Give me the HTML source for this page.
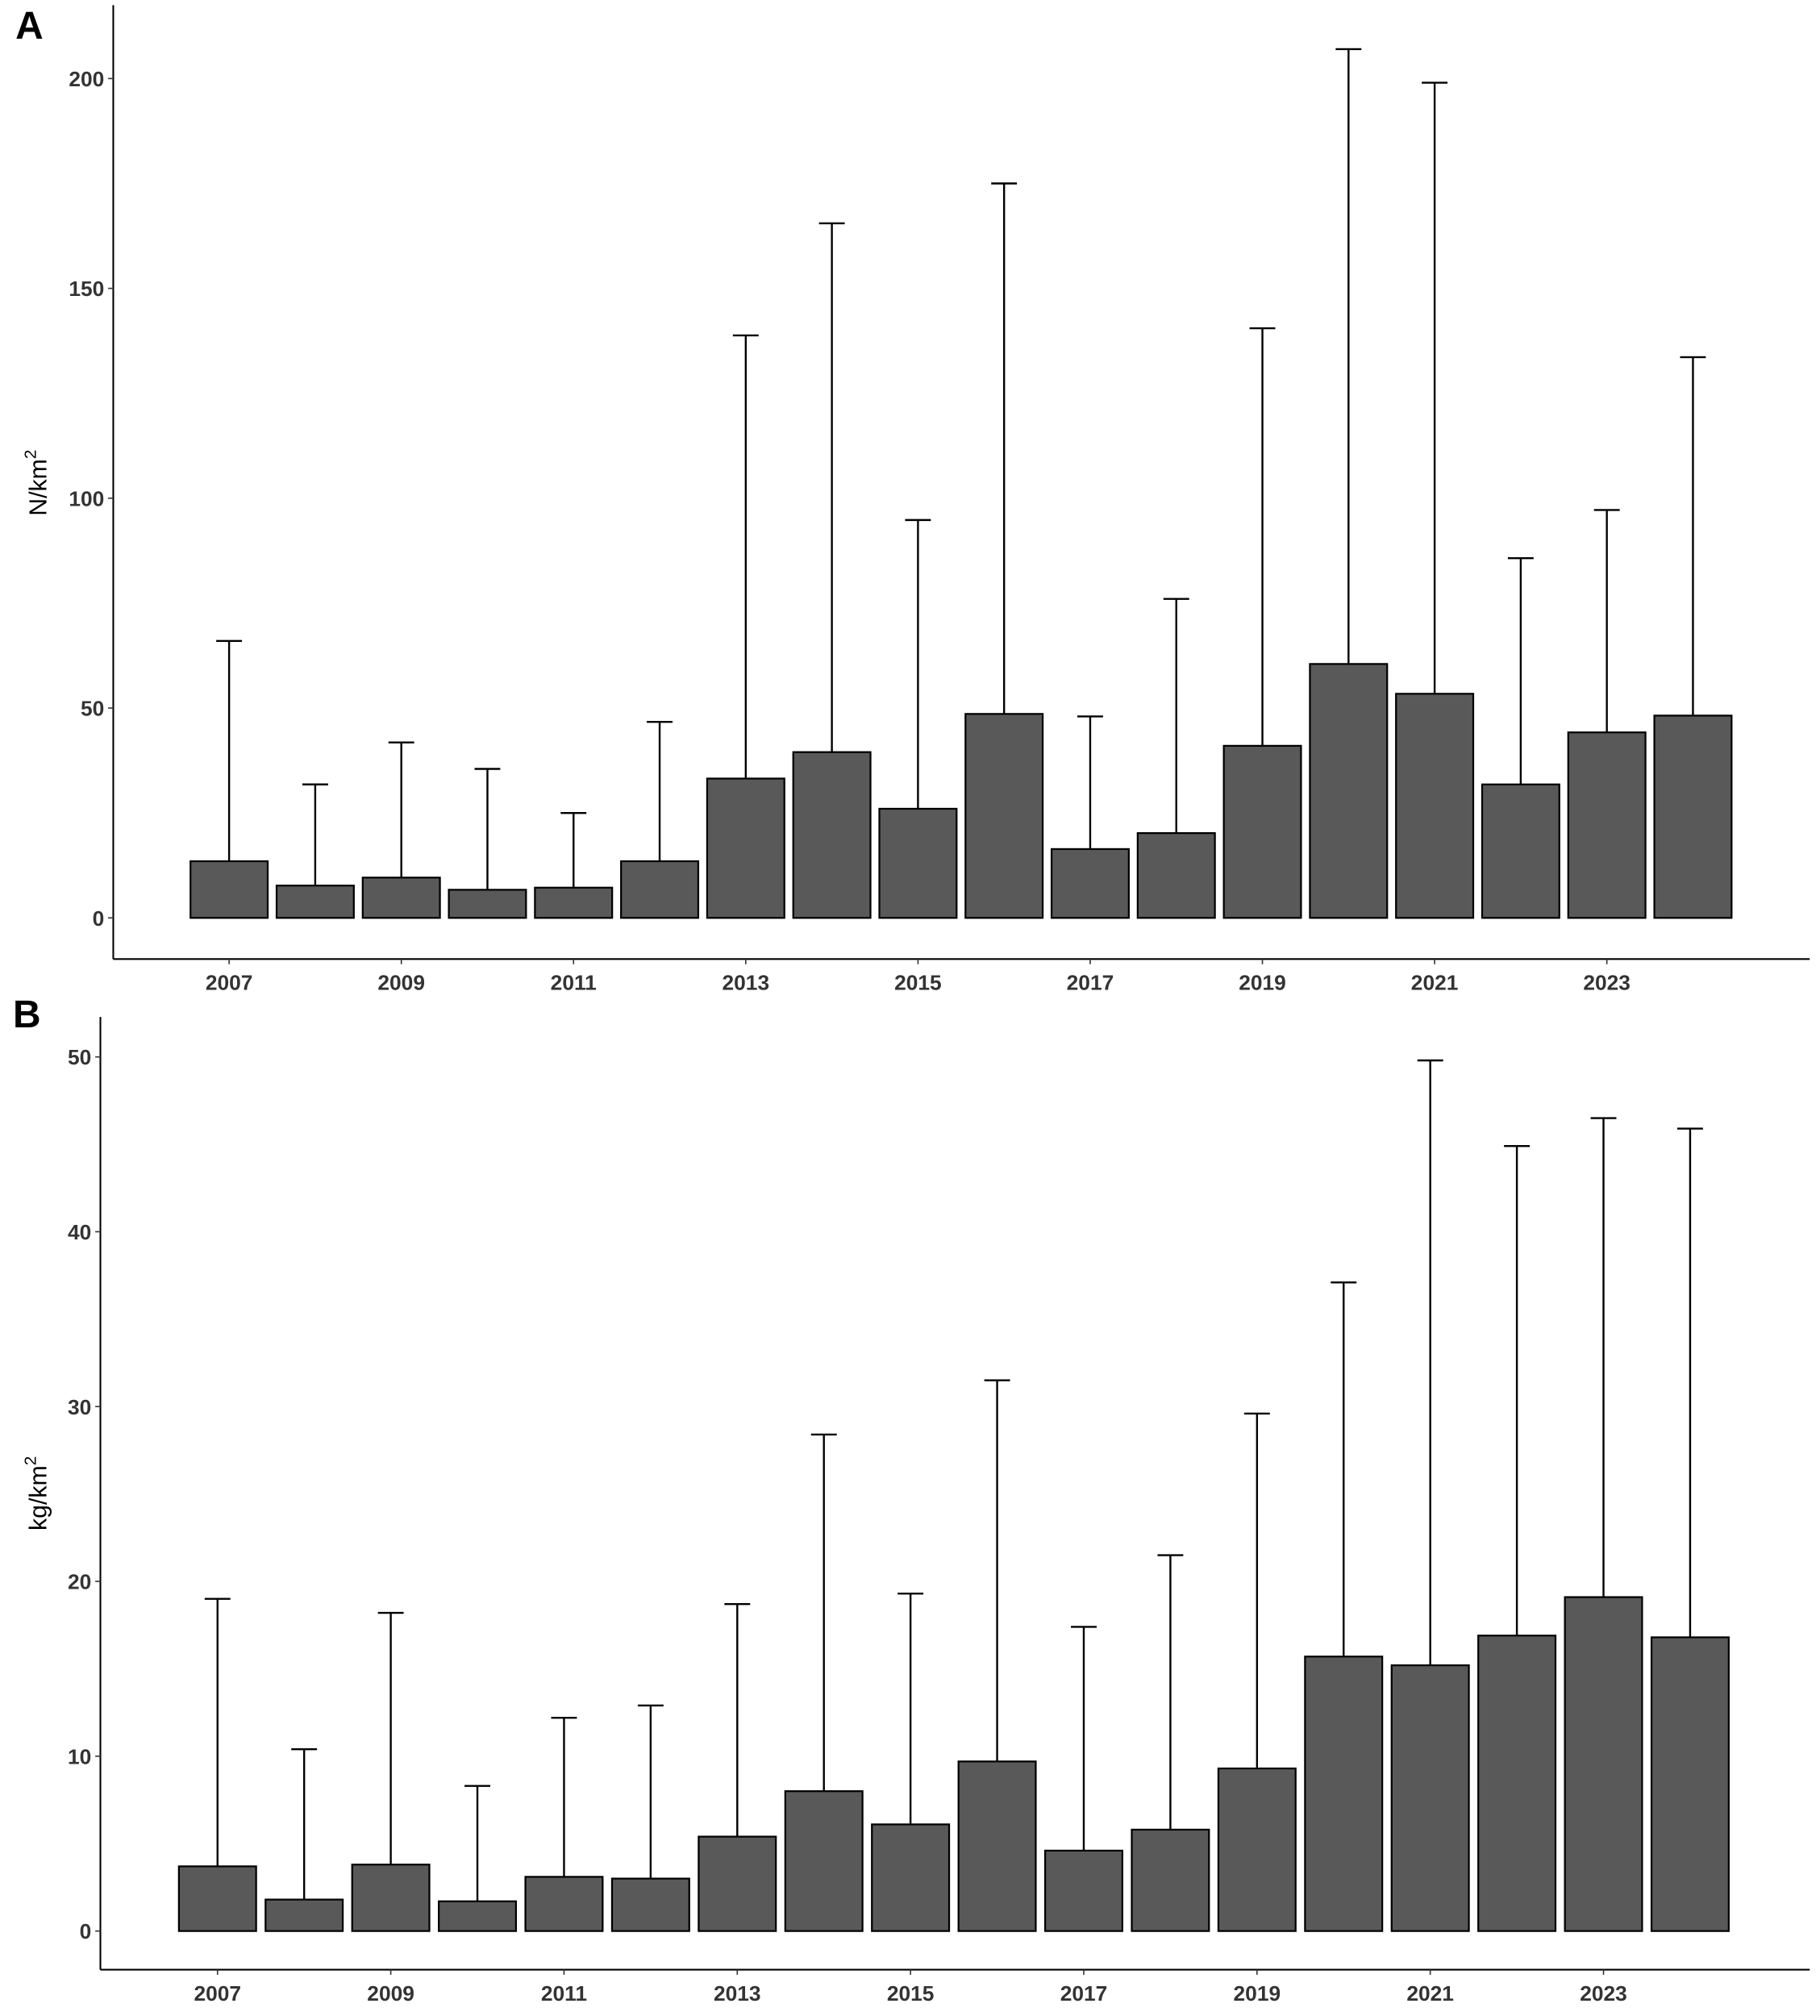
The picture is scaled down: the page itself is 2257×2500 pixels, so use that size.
<!DOCTYPE html>
<html><head><meta charset="utf-8"><style>
html,body{margin:0;padding:0;background:#fff;}
svg{display:block;}
text{font-family:"Liberation Sans",sans-serif;}
</style></head><body>
<svg id="chart" width="2257" height="2500" viewBox="0 0 1414 1566" preserveAspectRatio="none" xmlns="http://www.w3.org/2000/svg">
<text x="12" y="30" font-size="30" font-weight="bold" fill="#000">A</text>
<text x="10" y="798" font-size="30" font-weight="bold" fill="#000">B</text>
<g id="pa"></g>
<g id="pb"></g>
</svg>
<script>
const years = [2007,2008,2009,2010,2011,2012,2013,2014,2015,2016,2017,2018,2019,2020,2021,2022,2023,2024];
const tickYears = [2007,2009,2011,2013,2015,2017,2019,2021,2023];
const meanA = [13.5,7.7,9.6,6.7,7.2,13.5,33.2,39.5,26,48.6,16.4,20.2,41,60.5,53.4,31.8,44.2,48.2];
const upperA = [66,31.8,41.8,35.5,25,46.7,138.8,165.5,94.8,175,48,76,140.5,207,199,85.7,97.2,133.6];
const ticksA = [0,50,100,150,200];
const meanB = [3.7,1.8,3.8,1.7,3.1,3.0,5.4,8.0,6.1,9.7,4.6,5.8,9.3,15.7,15.2,16.9,19.1,16.8];
const upperB = [19.0,10.4,18.2,8.3,12.2,12.9,18.7,28.4,19.3,31.5,17.4,21.5,29.6,37.1,49.8,44.9,46.5,45.9];
const ticksB = [0,10,20,30,40,50];

const NS="http://www.w3.org/2000/svg";
function mk(parent,tag,attrs,txt){const e=document.createElementNS(NS,tag);for(const k in attrs)e.setAttribute(k,attrs[k]);if(txt!==undefined)e.textContent=txt;parent.appendChild(e);return e;}

function panel(g,cfg,means,uppers,ticks,prefix){
  const y=v=>cfg.y0-(v-0)*cfg.ypu;
  const x=yr=>cfg.x0+(yr-2007)*cfg.xstep;
  let e=mk(g,'line',{x1:cfg.ax,y1:cfg.top,x2:cfg.ax,y2:cfg.axb,stroke:'#000','stroke-width':1.3});
  
  
  e=mk(g,'line',{x1:cfg.ax,y1:cfg.axb,x2:cfg.right,y2:cfg.axb,stroke:'#000','stroke-width':1.3});
  
  
  ticks.forEach(t=>{
    let l=mk(g,'line',{x1:cfg.ax-4,y1:y(t),x2:cfg.ax,y2:y(t),stroke:'#333','stroke-width':1});
    
    
    let tx=mk(g,'text',{x:cfg.ax-7,y:y(t)+6,'text-anchor':'end','font-size':16.5,'font-weight':'bold',fill:'#333'},String(t));
    
    
  });
  tickYears.forEach(t=>{
    let l=mk(g,'line',{x1:x(t),y1:cfg.axb,x2:x(t),y2:cfg.axb+4,stroke:'#333','stroke-width':1});
    
    
    let tx=mk(g,'text',{x:x(t),y:cfg.axb+24,'text-anchor':'middle','font-size':16.5,'font-weight':'bold',fill:'#333'},String(t));
    
    
  });
  years.forEach((yr,i)=>{
    const cx=x(yr);
    let eb=mk(g,'line',{x1:cx,y1:y(means[i]),x2:cx,y2:y(uppers[i]),stroke:'#000','stroke-width':1.5});
    
    
    let cap=mk(g,'line',{x1:cx-10,y1:y(uppers[i]),x2:cx+10,y2:y(uppers[i]),stroke:'#000','stroke-width':1.5});
    
    
    let r=mk(g,'rect',{x:cx-cfg.bw/2,y:y(means[i]),width:cfg.bw,height:y(0)-y(means[i]),fill:'#595959',stroke:'#000','stroke-width':1.4});
    
    
  });
  let t=mk(g,'text',{transform:`translate(${cfg.lx},${cfg.ly}) rotate(-90)`,'text-anchor':'middle','font-size':19,fill:'#000'});
  t.innerHTML=cfg.label+'/km<tspan dy="-8" font-size="13">2</tspan>';
  
  
}
panel(document.getElementById('pa'),{ax:88,top:4,axb:745,right:1406,y0:713,ypu:163/50,x0:178,xstep:66.9,bw:60,lx:36,ly:375,label:'N'},meanA,upperA,ticksA,'a');
panel(document.getElementById('pb'),{ax:78,top:790,axb:1530,right:1406,y0:1500,ypu:679/50,x0:169,xstep:67.3,bw:60,lx:36,ly:1160,label:'kg'},meanB,upperB,ticksB,'b');
</script>
</body></html>
